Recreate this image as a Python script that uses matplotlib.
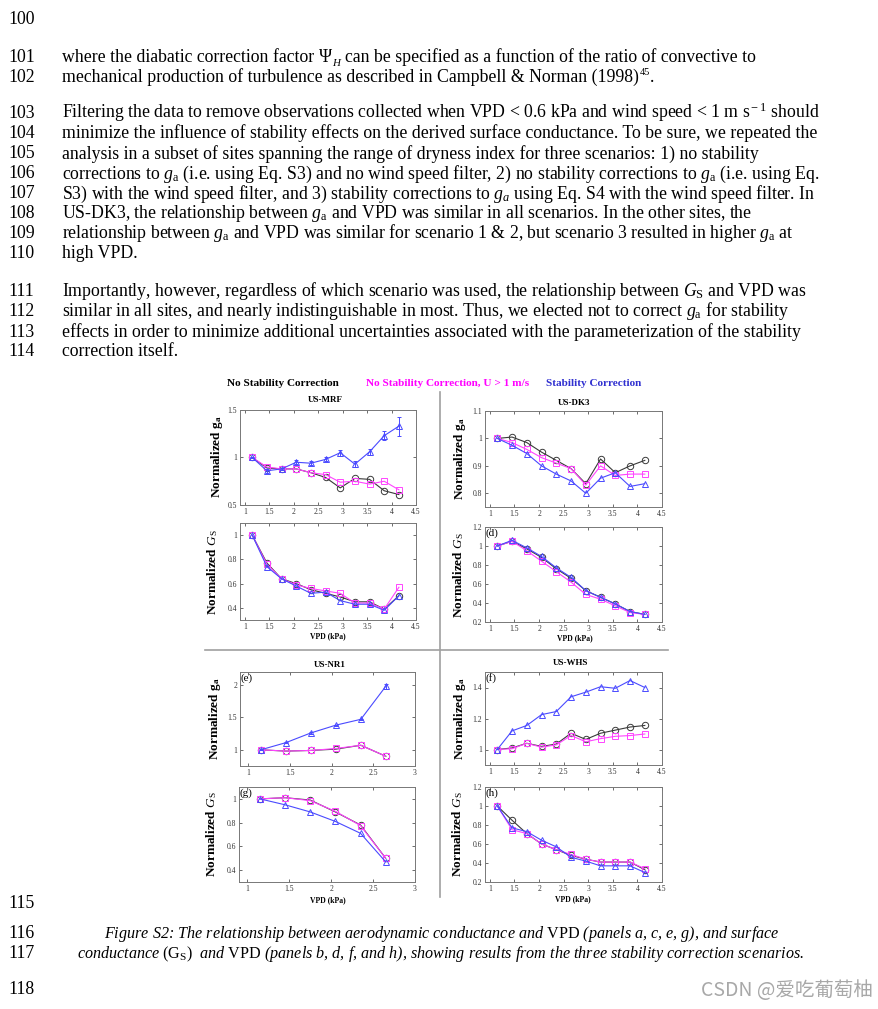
import matplotlib
matplotlib.use('Agg')
import matplotlib.pyplot as plt
import numpy as np
from matplotlib.lines import Line2D

plt.rcParams['font.family'] = ['Liberation Serif', 'DejaVu Serif']
plt.rcParams['mathtext.fontset'] = 'custom'
plt.rcParams['mathtext.rm'] = 'Liberation Serif'
plt.rcParams['mathtext.it'] = 'Liberation Serif:italic'
plt.rcParams['mathtext.bf'] = 'Liberation Serif:bold'

# ---------------- data ----------------
vpd_long = [1.15, 1.45, 1.75, 2.05, 2.35, 2.65, 2.95, 3.25, 3.55, 3.85, 4.15]
vpd_short = [1.15, 1.45, 1.75, 2.05, 2.35, 2.65]

# US-MRF
mrf_ga_nocorr = [1.00, 0.89, 0.88, 0.88, 0.84, 0.79, 0.68, 0.78, 0.77, 0.65, 0.61]
mrf_ga_wind = [1.00, 0.90, 0.88, 0.88, 0.84, 0.82, 0.74, 0.75, 0.72, 0.75, 0.66]
mrf_ga_stab = [1.00, 0.86, 0.88, 0.95, 0.94, 0.98, 1.05, 0.93, 1.06, 1.23, 1.33]
mrf_ga_stab_err = [0.01, 0.02, 0.01, 0.02, 0.02, 0.02, 0.03, 0.03, 0.03, 0.05, 0.10]
mrf_gs_nocorr = [1.00, 0.77, 0.64, 0.60, 0.55, 0.52, 0.49, 0.45, 0.45, 0.39, 0.50]
mrf_gs_wind = [1.00, 0.76, 0.64, 0.59, 0.56, 0.54, 0.52, 0.44, 0.44, 0.39, 0.57]
mrf_gs_stab = [1.00, 0.74, 0.64, 0.58, 0.52, 0.53, 0.46, 0.43, 0.43, 0.38, 0.50]

# US-DK3
dk3_ga_nocorr = [1.00, 1.005, 0.985, 0.95, 0.92, 0.89, 0.835, 0.925, 0.875, 0.90, 0.92]
dk3_ga_wind = [1.00, 0.985, 0.96, 0.93, 0.91, 0.89, 0.83, 0.90, 0.865, 0.87, 0.87]
dk3_ga_stab = [1.00, 0.975, 0.945, 0.90, 0.87, 0.845, 0.80, 0.855, 0.875, 0.825, 0.835]
dk3_gs_nocorr = [1.00, 1.05, 0.97, 0.88, 0.76, 0.66, 0.53, 0.46, 0.39, 0.31, 0.28]
dk3_gs_wind = [1.00, 1.05, 0.95, 0.84, 0.73, 0.62, 0.49, 0.44, 0.37, 0.30, 0.28]
dk3_gs_stab = [1.00, 1.06, 0.98, 0.89, 0.77, 0.67, 0.53, 0.46, 0.39, 0.31, 0.28]

# US-NR1
nr1_ga_nocorr = [1.00, 0.98, 0.99, 1.01, 1.07, 0.90]
nr1_ga_wind = [1.00, 0.98, 0.99, 1.02, 1.07, 0.90]
nr1_ga_stab = [1.00, 1.11, 1.26, 1.38, 1.47, 1.98]
nr1_ga_stab_err = [0.01, 0.01, 0.01, 0.01, 0.01, 0.04]
nr1_gs_nocorr = [1.00, 1.01, 0.99, 0.89, 0.78, 0.50]
nr1_gs_wind = [1.00, 1.01, 0.985, 0.895, 0.775, 0.50]
nr1_gs_stab = [1.00, 0.95, 0.89, 0.81, 0.71, 0.47]

# US-WHS
whs_ga_nocorr = [1.00, 1.01, 1.04, 1.02, 1.035, 1.105, 1.065, 1.105, 1.125, 1.145, 1.155]
whs_ga_wind = [1.00, 1.005, 1.04, 1.015, 1.03, 1.09, 1.05, 1.07, 1.085, 1.09, 1.10]
whs_ga_stab = [1.00, 1.12, 1.155, 1.225, 1.245, 1.34, 1.37, 1.405, 1.395, 1.445, 1.40]
whs_gs_nocorr = [1.00, 0.85, 0.71, 0.60, 0.54, 0.48, 0.44, 0.41, 0.41, 0.41, 0.33]
whs_gs_wind = [1.00, 0.75, 0.71, 0.60, 0.54, 0.49, 0.44, 0.41, 0.41, 0.41, 0.34]
whs_gs_stab = [1.00, 0.77, 0.73, 0.64, 0.57, 0.46, 0.42, 0.37, 0.37, 0.37, 0.30]

legend_labels = ['No Stability Correction', 'No Stability Correction, U > 1 m/s', 'Stability Correction']
site_names = ['US-MRF', 'US-DK3', 'US-NR1', 'US-WHS']

body_lines = [
    ('100', ''),
    ('101', None),
    ('102', None),
    ('103', r'Filtering the data to remove observations collected when VPD < 0.6 kPa and wind speed < 1 m s$^{\rm -1}$ should'),
    ('104', 'minimize the influence of stability effects on the derived surface conductance. To be sure, we repeated the'),
    ('105', 'analysis in a subset of sites spanning the range of dryness index for three scenarios: 1) no stability'),
    ('106', r'corrections to $g_{\rm a}$ (i.e. using Eq. S3) and no wind speed filter, 2) no stability corrections to $g_{\rm a}$ (i.e. using Eq.'),
    ('107', r'S3) with the wind speed filter, and 3) stability corrections to $g_{a}$ using Eq. S4 with the wind speed filter. In'),
    ('108', r'US-DK3, the relationship between $g_{\rm a}$ and VPD was similar in all scenarios. In the other sites, the'),
    ('109', r'relationship between $g_{\rm a}$ and VPD was similar for scenario 1 & 2, but scenario 3 resulted in higher $g_{\rm a}$ at'),
    ('110', 'high VPD.'),
    ('111', r'Importantly, however, regardless of which scenario was used, the relationship between $G_{\rm S}$ and VPD was'),
    ('112', r'similar in all sites, and nearly indistinguishable in most. Thus, we elected not to correct $g_{\rm a}$ for stability'),
    ('113', 'effects in order to minimize additional uncertainties associated with the parameterization of the stability'),
    ('114', 'correction itself.'),
    ('115', ''),
    ('116', ''),
    ('117', ''),
    ('118', ''),
]
line_y = [18, 57, 76, 113, 132, 153, 173, 193, 213, 233, 253, 291, 311, 331, 351, 902, 932, 952, 988]

line101_a = 'where the diabatic correction factor'
line101_psi = 'Ψ'
line101_sub = 'H'
line101_b = 'can be specified as a function of the ratio of convective to'
line102_a = 'mechanical production of turbulence as described in Campbell & Norman (1998)'
line102_sup = '45'

caption_1 = r'Figure S2: The relationship between aerodynamic conductance and $\mathrm{VPD}$ (panels a, c, e, g), and surface'
caption_2 = r'conductance $\mathrm{(G_{S})}$  and $\mathrm{VPD}$ (panels b, d, f, and h), showing results from the three stability correction scenarios.'

# ---------------- figure ----------------
W, H = 879, 1009
fig = plt.figure(figsize=(W / 100, H / 100), dpi=100)
renderer = fig.canvas.get_renderer()


def fx(x):
    return x / W


def fy(y):
    return 1 - y / H


def put(x, yb, s, **kw):
    t = fig.text(fx(x), fy(yb), s, va='baseline', ha='left', **kw)
    return t, t.get_window_extent(renderer).width


BODY_FS = 12.75
t1, w_xx = put(0, 500, 'xx', fontsize=BODY_FS)
t2, w_x_x = put(0, 500, 'x x', fontsize=BODY_FS)
t1.remove()
t2.remove()
space_w = w_x_x - w_xx

for (num, txt), y in zip(body_lines, line_y):
    yb = y + 5.5
    fig.text(fx(8), fy(yb), num, fontsize=BODY_FS, va='baseline', ha='left')
    if txt:
        fig.text(fx(62), fy(yb), txt, fontsize=BODY_FS, va='baseline', ha='left')

# line 101 with Psi_H
yb = line_y[1] + 5.5
x = 62
_, w = put(x, yb, line101_a, fontsize=BODY_FS)
x += w + space_w
_, w = put(x, yb, line101_psi, fontsize=BODY_FS)
x += w + 0.5
_, w = put(x, yb + 3, line101_sub, fontsize=BODY_FS * 0.62, style='italic')
x += w + space_w
put(x, yb, line101_b, fontsize=BODY_FS)

# line 102 with superscript
yb = line_y[2] + 5.5
x = 62
_, w = put(x, yb, line102_a, fontsize=BODY_FS)
x += w + 0.5
_, w = put(x, yb - 6.5, line102_sup, fontsize=BODY_FS * 0.58)
x += w
put(x, yb, '.', fontsize=BODY_FS)

CAP_FS = 11.6
fig.text(fx(442), fy(932 + 5.5), caption_1, fontsize=CAP_FS, style='italic', va='baseline', ha='center')
fig.text(fx(441), fy(952 + 5.5), caption_2, fontsize=CAP_FS, style='italic', va='baseline', ha='center')

fig.text(fx(873), fy(991), 'CSDN @爱吃葡萄柚', fontsize=14, color='#a8a8a8',
         family=['Noto Sans CJK SC', 'DejaVu Sans'], ha='right', va='center')

# legend header
col_black = '#3a3a3a'
col_mag = '#ff44ff'
col_blue = '#4a4aff'
fig.text(fx(227), fy(384), legend_labels[0], fontsize=8.1, weight='bold', color='black', va='center')
fig.text(fx(366), fy(384), legend_labels[1], fontsize=8.1, weight='bold', color='#ff00ff', va='center')
fig.text(fx(546), fy(384), legend_labels[2], fontsize=8.1, weight='bold', color='#3030d0', va='center')

# divider lines
fig.add_artist(Line2D([fx(440), fx(440)], [fy(392), fy(897)], color='#a0a0a0', lw=1.2))
fig.add_artist(Line2D([fx(205), fx(668)], [fy(650), fy(650)], color='#a0a0a0', lw=1.2))


def make_axes(l, t, r, b):
    return fig.add_axes([l / W, 1 - b / H, (r - l) / W, (b - t) / H])


def draw_panel(box, x, black, mag, blue, xlim, ylim, xticks, yticks, yticklabels,
               letter=None, blue_err=None):
    ax = make_axes(*box)
    kw = dict(mfc='none', ms=4.6, lw=0.8, mew=0.7)
    ax.plot(x, black, '-o', color=col_black, **kw)
    ax.plot(x, mag, '-s', color=col_mag, **kw)
    if blue_err is not None:
        ax.errorbar(x, blue, yerr=blue_err, fmt='-^', color=col_blue, elinewidth=0.7,
                    capsize=1.5, **kw)
    else:
        ax.plot(x, blue, '-^', color=col_blue, **kw)
    ax.set_xlim(*xlim)
    ax.set_ylim(*ylim)
    ax.set_xticks(xticks)
    ax.set_xticklabels([('%g' % v) for v in xticks])
    ax.set_yticks(yticks)
    ax.set_yticklabels(yticklabels)
    ax.tick_params(direction='in', length=2, width=0.5, labelsize=5.5, pad=2,
                   colors='#333333', top=True, right=True)
    for s in ax.spines.values():
        s.set_color('#777777')
        s.set_linewidth(0.7)
    if letter:
        ax.text(0.005, 0.985, letter, transform=ax.transAxes, fontsize=8, va='top', ha='left')
    return ax


xt_long = [1, 1.5, 2, 2.5, 3, 3.5, 4, 4.5]
xt_short = [1, 1.5, 2, 2.5, 3]

# (a)
draw_panel((240, 410, 416, 505), vpd_long, mrf_ga_nocorr, mrf_ga_wind, mrf_ga_stab,
           (0.9, 4.5), (0.5, 1.5), xt_long, [0.5, 1, 1.5], ['0.5', '1', '1.5'],
           blue_err=mrf_ga_stab_err)
# (b)
draw_panel((240, 523, 416, 620), vpd_long, mrf_gs_nocorr, mrf_gs_wind, mrf_gs_stab,
           (0.9, 4.5), (0.3, 1.1), xt_long, [0.4, 0.6, 0.8, 1], ['0.4', '0.6', '0.8', '1'])
# (c)
draw_panel((485, 411, 662, 507), vpd_long, dk3_ga_nocorr, dk3_ga_wind, dk3_ga_stab,
           (0.9, 4.5), (0.75, 1.1), xt_long, [0.8, 0.9, 1, 1.1], ['0.8', '0.9', '1', '1.1'])
# (d)
draw_panel((485, 527, 662, 622), vpd_long, dk3_gs_nocorr, dk3_gs_wind, dk3_gs_stab,
           (0.9, 4.5), (0.2, 1.2), xt_long, [0.2, 0.4, 0.6, 0.8, 1, 1.2],
           ['0.2', '0.4', '0.6', '0.8', '1', '1.2'], letter='(d)')
# (e)
draw_panel((240, 672, 415, 766), vpd_short, nr1_ga_nocorr, nr1_ga_wind, nr1_ga_stab,
           (0.9, 3.0), (0.75, 2.2), xt_short, [1, 1.5, 2], ['1', '1.5', '2'],
           letter='(e)', blue_err=nr1_ga_stab_err)
# (f)
draw_panel((485, 672, 662, 765), vpd_long, whs_ga_nocorr, whs_ga_wind, whs_ga_stab,
           (0.9, 4.5), (0.9, 1.5), xt_long, [1, 1.2, 1.4], ['1', '1.2', '1.4'], letter='(f)')
# (g)
draw_panel((239, 787, 415, 882), vpd_short, nr1_gs_nocorr, nr1_gs_wind, nr1_gs_stab,
           (0.9, 3.0), (0.3, 1.1), xt_short, [0.4, 0.6, 0.8, 1], ['0.4', '0.6', '0.8', '1'],
           letter='(g)')
# (h)
draw_panel((485, 787, 662, 882), vpd_long, whs_gs_nocorr, whs_gs_wind, whs_gs_stab,
           (0.9, 4.5), (0.2, 1.2), xt_long, [0.2, 0.4, 0.6, 0.8, 1, 1.2],
           ['0.2', '0.4', '0.6', '0.8', '1', '1.2'], letter='(h)')

# titles
for name, (x, y) in zip(site_names, [(325, 400), (574, 403), (330, 665), (570, 663)]):
    fig.text(fx(x), fy(y), name, fontsize=6.5, weight='bold', ha='center', va='center')

# y labels
ga_label = r'Normalized $\mathbf{g_{a}}$'
gs_label = r'Normalized $G_{\rm S}$'
for lab, (x, y) in zip([ga_label, gs_label, ga_label, gs_label, ga_label, ga_label, gs_label, gs_label],
                       [(217, 457), (213, 572), (460, 459), (459, 575),
                        (215, 719), (460, 719), (212, 834), (458, 834)]):
    fig.text(fx(x), fy(y), lab, fontsize=9.5, weight='bold', rotation=90, ha='center', va='center')

# x labels
for (x, y) in [(328, 636), (575, 638), (328, 900), (573, 899)]:
    fig.text(fx(x), fy(y), 'VPD (kPa)', fontsize=5.5, weight='bold', ha='center', va='center')

fig.savefig('out.png', dpi=100, facecolor='white')
